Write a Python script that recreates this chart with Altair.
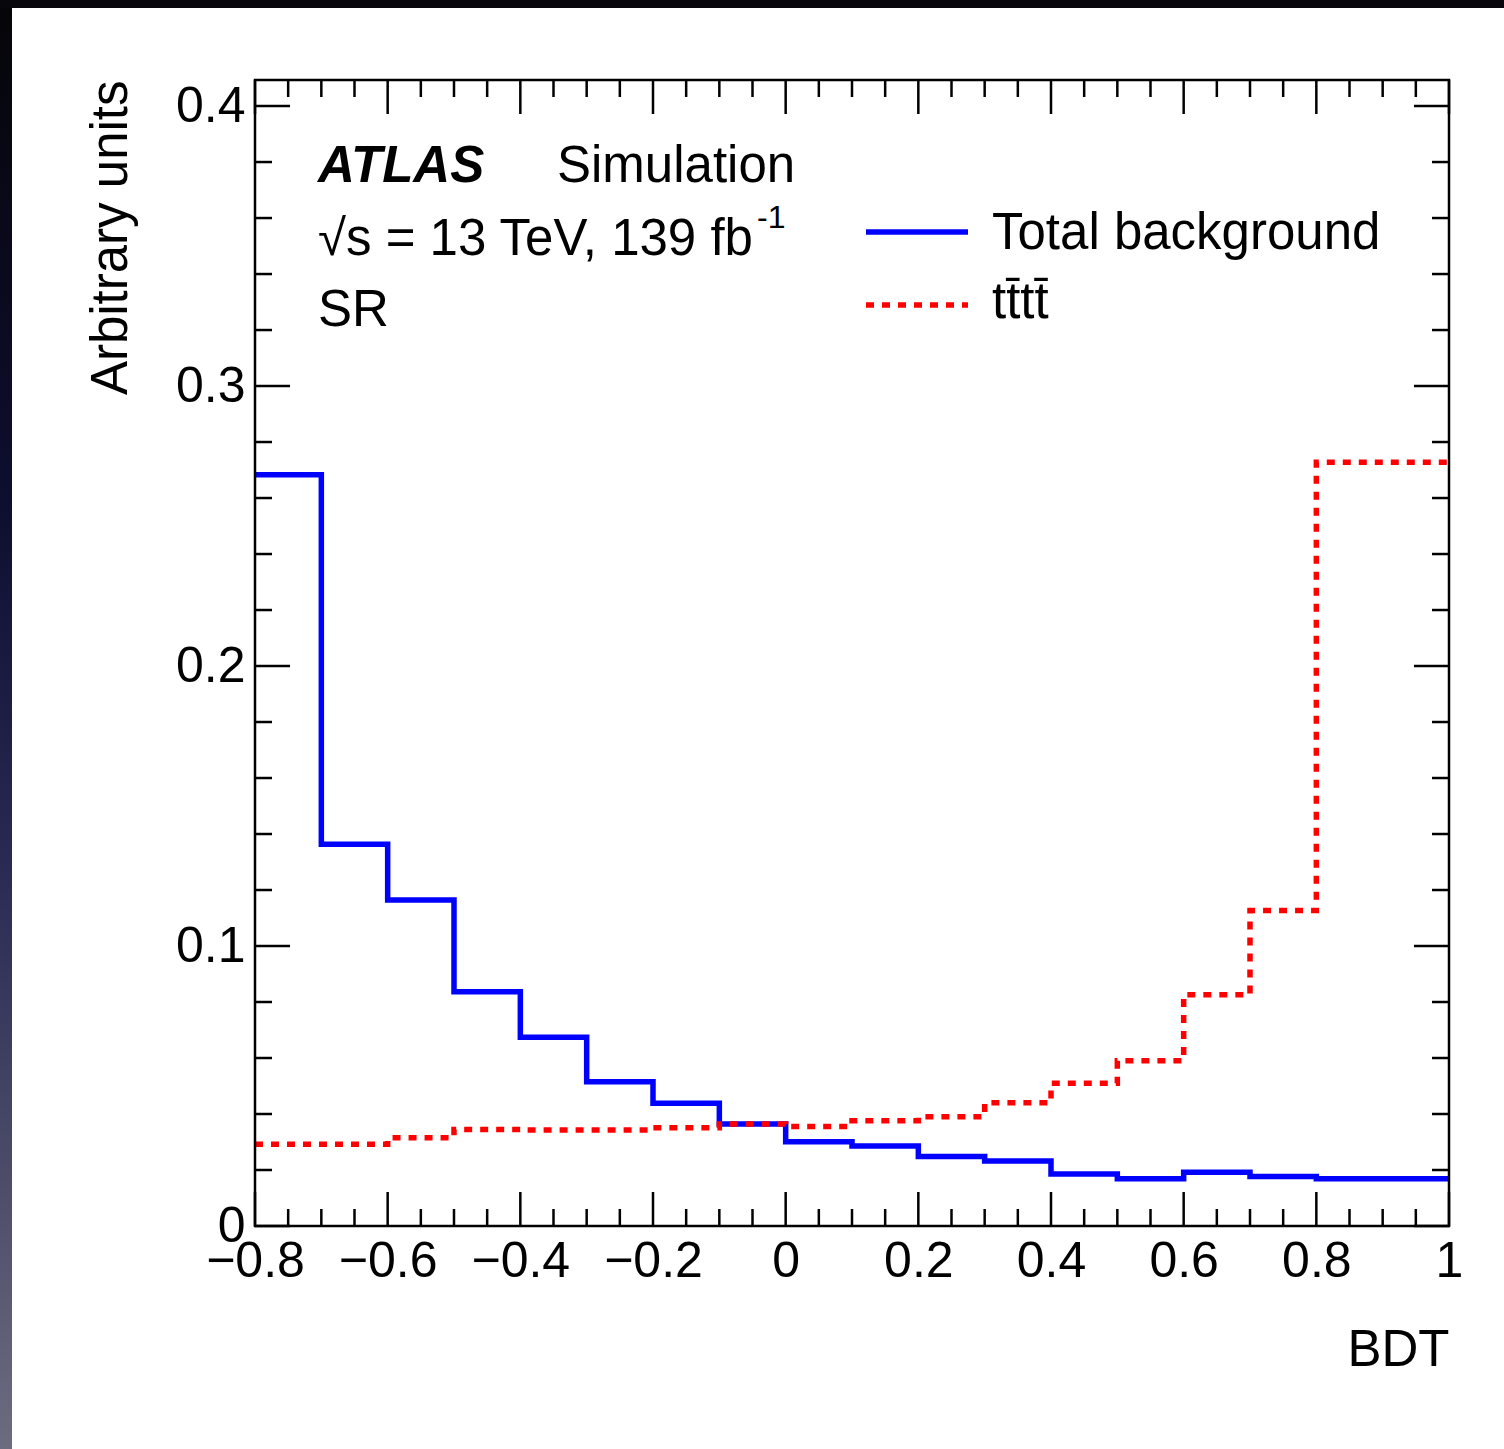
import altair as alt
import pandas as pd

# ---- data ----
bin_edges = [-0.8, -0.7, -0.6, -0.5, -0.4, -0.3, -0.2, -0.1, 0.0, 0.1,
             0.2, 0.3, 0.4, 0.5, 0.6, 0.7, 0.8, 0.9, 1.0]
total_background = [0.2683, 0.1363, 0.1164, 0.0837, 0.0674, 0.0515, 0.0438, 0.0364, 0.0301,
                    0.0286, 0.0248, 0.0232, 0.0186, 0.0169, 0.0192, 0.0177, 0.0169, 0.0169]
tttt = [0.0292, 0.0292, 0.0315, 0.0345, 0.0343, 0.0343, 0.0351, 0.0364, 0.0355,
        0.0376, 0.0390, 0.0440, 0.0510, 0.0590, 0.0826, 0.1127, 0.2728, 0.2728]

x_major = [-0.8, -0.6, -0.4, -0.2, 0.0, 0.2, 0.4, 0.6, 0.8, 1.0]
x_minor = [-0.75, -0.7, -0.65, -0.55, -0.5, -0.45, -0.35, -0.3, -0.25, -0.15, -0.1, -0.05,
           0.05, 0.1, 0.15, 0.25, 0.3, 0.35, 0.45, 0.5, 0.55, 0.65, 0.7, 0.75, 0.85, 0.9, 0.95]
y_major = [0.0, 0.1, 0.2, 0.3, 0.4]
y_minor = [0.02, 0.04, 0.06, 0.08, 0.12, 0.14, 0.16, 0.18, 0.22, 0.24, 0.26, 0.28,
           0.32, 0.34, 0.36, 0.38]

legend_labels = ["Total background", "tt\u0304tt\u0304"]

# ---- layout ----
W, H = 1194, 1146
FONT = "Liberation Sans"
FS = 50
TFS = 51
XDOM = [-0.8, 1.0]
YDOM = [0.0, 0.4093]
BLUE = "#0000ff"
RED = "#ff0000"


def step_frame(values):
    return pd.DataFrame({"x": bin_edges, "y": list(values) + [values[-1]]})


xs = alt.Scale(domain=XDOM, nice=False, zero=False)
ys = alt.Scale(domain=YDOM, nice=False, zero=False)

one = alt.InlineData(values=[{"k": 1}])

# decorative dark frame of the screenshot
left_strip = alt.Chart(one).mark_rect(
    fill=alt.Gradient(
        gradient="linear", x1=0, x2=0, y1=0, y2=1,
        stops=[alt.GradientStop(offset=0, color="#050508"),
               alt.GradientStop(offset=0.35, color="#0e0e30"),
               alt.GradientStop(offset=0.6, color="#2a2a54"),
               alt.GradientStop(offset=0.8, color="#4a4a68"),
               alt.GradientStop(offset=1, color="#6c6c80")])
).encode(x=alt.value(-255), x2=alt.value(-243), y=alt.value(-80), y2=alt.value(H + 223))
top_strip = alt.Chart(one).mark_rect(fill="#08080c").encode(
    x=alt.value(-255), x2=alt.value(W + 55), y=alt.value(-80), y2=alt.value(-72))

# main axes (labels + titles only)
base_x = alt.X("x:Q", scale=xs, axis=alt.Axis(
    values=x_major, format="~g", ticks=False, domain=False, grid=False,
    labelFont=FONT, labelFontSize=FS, labelColor="black", labelPadding=10,
    labelFlush=False, labelOverlap=False,
    title="BDT", titleFont=FONT, titleFontSize=TFS, titleFontWeight="normal",
    titleColor="black", titleAnchor="end", titleAlign="right", titleX=W, titleY=139,
    titleBaseline="alphabetic"))
base_y = alt.Y("y:Q", scale=ys, axis=alt.Axis(
    values=y_major, format="~g", ticks=False, domain=False, grid=False,
    labelFont=FONT, labelFontSize=FS, labelColor="black", labelPadding=10,
    labelOverlap=False, labelFlush=False, labelBaseline="middle",
    title="Arbitrary units", titleFont=FONT, titleFontSize=TFS, titleFontWeight="normal",
    titleColor="black", titleAnchor="end", titleAlign="right", titleAngle=270,
    titleX=-129, titleY=0, titleBaseline="alphabetic"))

bkg = alt.Chart(step_frame(total_background)).mark_line(
    interpolate="step-after", color=BLUE, strokeWidth=5.5, strokeCap="butt"
).encode(x=base_x, y=base_y)

sig = alt.Chart(step_frame(tttt)).mark_line(
    interpolate="step-after", color=RED, strokeWidth=5.5, strokeDash=[8, 8], strokeCap="butt"
).encode(x=alt.X("x:Q", scale=xs), y=alt.Y("y:Q", scale=ys))


# inward ticks on all four sides
def xticks(vals, length):
    d = pd.DataFrame({"v": vals})
    b = alt.Chart(d).mark_rule(color="black", strokeWidth=2.5).encode(
        x=alt.X("v:Q", scale=xs), y=alt.value(H), y2=alt.value(H - length))
    t = alt.Chart(d).mark_rule(color="black", strokeWidth=2.5).encode(
        x=alt.X("v:Q", scale=xs), y=alt.value(0), y2=alt.value(length))
    return [b, t]


def yticks(vals, length):
    d = pd.DataFrame({"v": vals})
    l = alt.Chart(d).mark_rule(color="black", strokeWidth=2.5).encode(
        y=alt.Y("v:Q", scale=ys), x=alt.value(0), x2=alt.value(length))
    r = alt.Chart(d).mark_rule(color="black", strokeWidth=2.5).encode(
        y=alt.Y("v:Q", scale=ys), x=alt.value(W), x2=alt.value(W - length))
    return [l, r]


ticks = xticks(x_major, 34) + xticks(x_minor, 17) + yticks(y_major, 35) + yticks(y_minor, 17)

frame = alt.Chart(one).mark_rect(filled=False, stroke="black", strokeWidth=2.5).encode(
    x=alt.value(0), x2=alt.value(W), y=alt.value(0), y2=alt.value(H))


def label(text, x, y, size=TFS, **kw):
    return alt.Chart(one).mark_text(
        text=text, font=FONT, fontSize=size, color="black", align="left",
        baseline="alphabetic", **kw).encode(x=alt.value(x), y=alt.value(y))


texts = [
    label("ATLAS", 63, 102, fontWeight="bold", fontStyle="italic"),
    label("Simulation", 302, 102),
    label("\u221As = 13 TeV, 139 fb", 63, 175),
    label("-1", 502, 148, size=32),
    label("SR", 63, 246),
    label(legend_labels[0], 737, 169),
    label(legend_labels[1], 737, 238),
]

leg_lines = [
    alt.Chart(one).mark_rule(color=BLUE, strokeWidth=5.5).encode(
        x=alt.value(611), x2=alt.value(713), y=alt.value(152)),
    alt.Chart(one).mark_rule(color=RED, strokeWidth=5.5, strokeDash=[8, 8], strokeCap="butt").encode(
        x=alt.value(611), x2=alt.value(713), y=alt.value(225)),
]

chart = alt.layer(
    left_strip, top_strip, bkg, sig, *ticks, frame, *leg_lines, *texts
).properties(
    width=W, height=H,
    autosize=alt.AutoSizeParams(type="none"),
    padding={"left": 255, "top": 80, "right": 55, "bottom": 223},
    background="white",
).configure_view(stroke=None)

chart.save("out.html", embed_options={"renderer": "svg", "actions": False})
